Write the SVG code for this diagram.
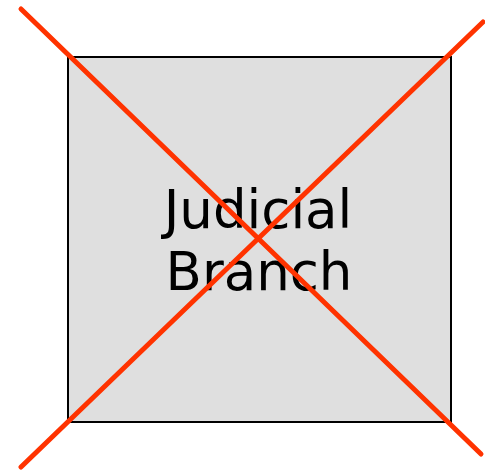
<svg xmlns="http://www.w3.org/2000/svg" width="485" height="471" viewBox="0 0 485 471">
<style>
.box{fill:#dfdfdf;stroke:#000;stroke-width:2}
.lbl{font-family:"DejaVu Sans",sans-serif;font-size:53px;fill:#000;text-anchor:middle}
.x{stroke:#ff3300;stroke-width:5;stroke-linecap:round}
</style>
<g id="judicial-branch">
<rect class="box" x="68" y="57" width="383" height="365"/>
<text class="lbl" x="258" y="228">Judicial</text>
<text class="lbl" x="259" y="290">Branch</text>
</g>
<g id="connectors">
<line class="x" x1="21" y1="9" x2="481" y2="454"/>
<line class="x" x1="483" y1="22" x2="21" y2="467"/>
</g>
</svg>
